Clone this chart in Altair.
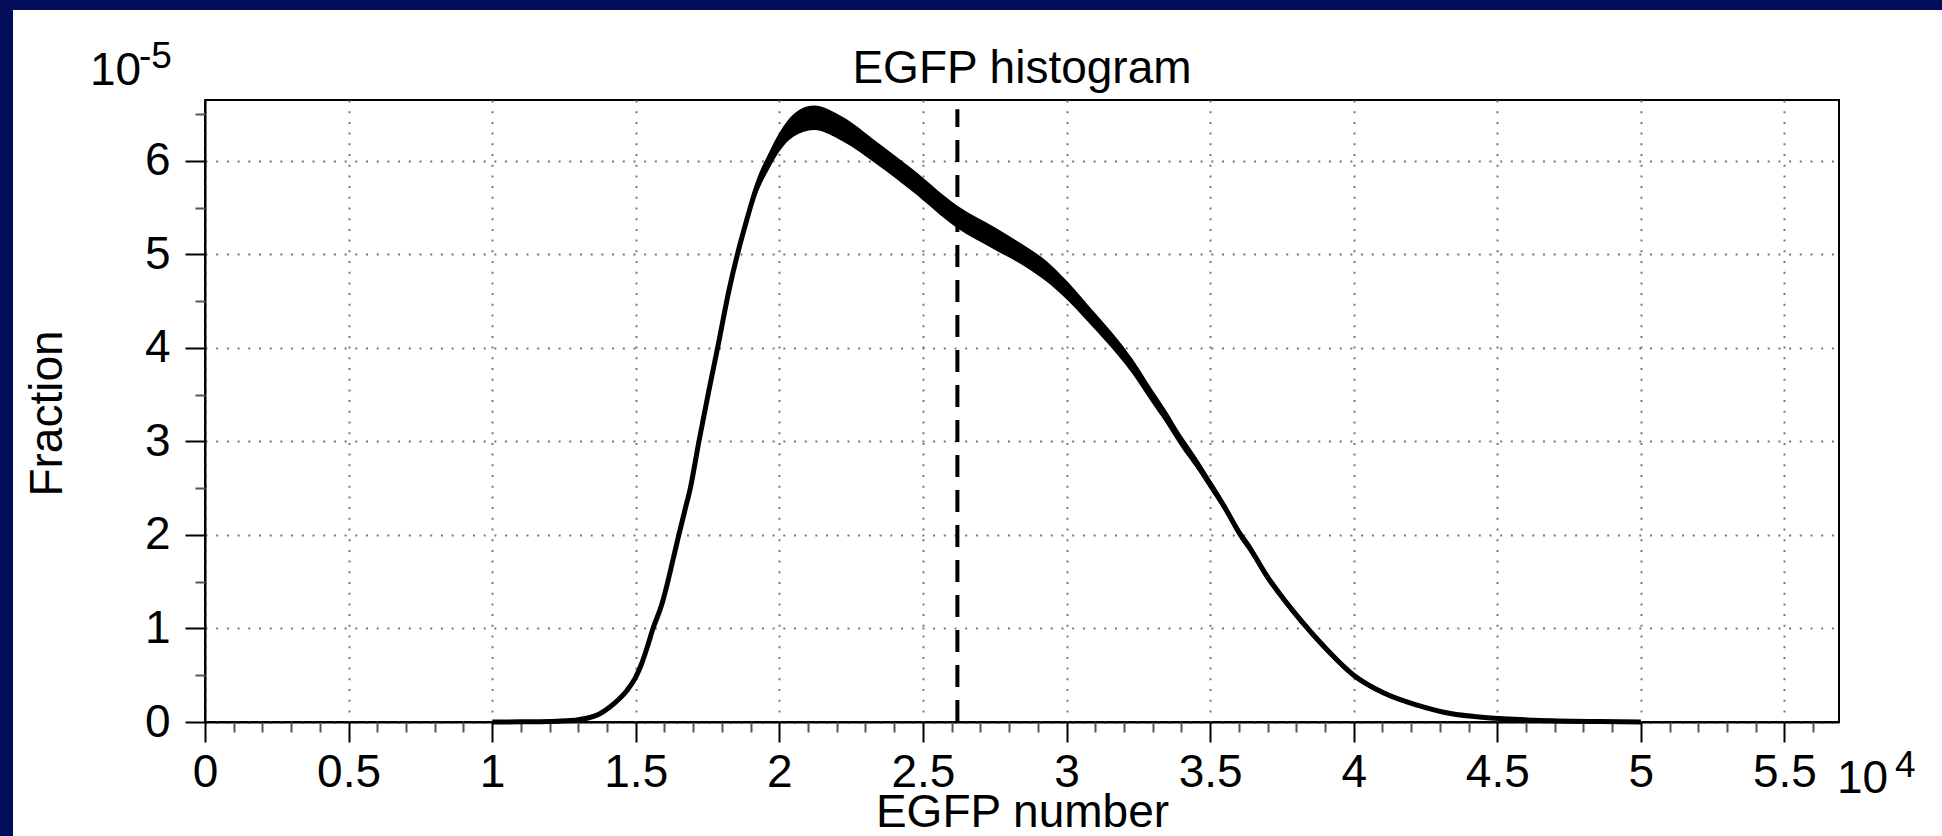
import altair as alt
import pandas as pd

# ---- data (x in units of 10^4, y in units of 10^-5) ----
egfp_1e4 = [1.00, 1.10, 1.20, 1.24, 1.30, 1.33, 1.37, 1.41, 1.44, 1.47,
            1.50, 1.52, 1.54, 1.56, 1.59, 1.61, 1.63, 1.65, 1.67, 1.69,
            1.72, 1.755, 1.785, 1.825, 1.854, 1.883, 1.918, 1.964, 2.00, 2.05,
            2.12, 2.22, 2.34, 2.46, 2.62, 2.75, 2.86, 2.93, 3.00, 3.08,
            3.18, 3.23, 3.29, 3.345, 3.40, 3.45, 3.49, 3.55, 3.606, 3.635,
            3.70, 3.76, 3.815, 3.908, 4.00, 4.105, 4.221, 4.337, 4.465, 4.63,
            4.86, 5.00]
fraction_1e5 = [0.0, 0.002, 0.006, 0.01, 0.025, 0.04, 0.08, 0.16, 0.24, 0.34,
                0.48, 0.62, 0.80, 1.00, 1.25, 1.48, 1.74, 2.00, 2.25, 2.50,
                3.00, 3.55, 4.00, 4.62, 5.00, 5.33, 5.69, 6.00, 6.20, 6.38,
                6.46, 6.34, 6.08, 5.80, 5.40, 5.17, 4.97, 4.82, 4.62, 4.35,
                4.00, 3.80, 3.52, 3.27, 3.00, 2.78, 2.59, 2.30, 2.00, 1.875,
                1.55, 1.30, 1.09, 0.77, 0.50, 0.31, 0.18, 0.09, 0.046, 0.02,
                0.005, 0.0]
noise_half = [0, 0, 0, 0, 0, 0, 0, 0, 0, 0,
              0.01, 0.01, 0.01, 0.015, 0.015, 0.02, 0.02, 0.02, 0.025, 0.025,
              0.03, 0.035, 0.04, 0.05, 0.06, 0.07, 0.08, 0.09, 0.10, 0.12,
              0.13, 0.13, 0.12, 0.12, 0.12, 0.12, 0.11, 0.11, 0.10, 0.09,
              0.085, 0.08, 0.075, 0.07, 0.065, 0.06, 0.055, 0.05, 0.05, 0.05,
              0.045, 0.04, 0.04, 0.035, 0.03, 0.025, 0.02, 0.015, 0.01, 0.005,
              0, 0]
threshold_1e4 = [2.62]
threshold_top_1e5 = [6.55]

x_major = [0, 0.5, 1, 1.5, 2, 2.5, 3, 3.5, 4, 4.5, 5, 5.5]
x_minor = [0.1, 0.2, 0.3, 0.4, 0.6, 0.7, 0.8, 0.9, 1.1, 1.2, 1.3, 1.4,
           1.6, 1.7, 1.8, 1.9, 2.1, 2.2, 2.3, 2.4, 2.6, 2.7, 2.8, 2.9,
           3.1, 3.2, 3.3, 3.4, 3.6, 3.7, 3.8, 3.9, 4.1, 4.2, 4.3, 4.4,
           4.6, 4.7, 4.8, 4.9, 5.1, 5.2, 5.3, 5.4, 5.6]
y_major = [0, 1, 2, 3, 4, 5, 6]
y_minor = [0.5, 1.5, 2.5, 3.5, 4.5, 5.5, 6.5]

FONT = "Liberation Sans"
NAVY = "#030B5B"
W, H = 1634, 622
PAD = {"left": 205, "top": 100, "right": 103, "bottom": 114}

df = pd.DataFrame({
    "x": egfp_1e4,
    "f": fraction_1e5,
    "lo": [f - h for f, h in zip(fraction_1e5, noise_half)],
    "hi": [f + h for f, h in zip(fraction_1e5, noise_half)],
})
thr = pd.DataFrame({"t": threshold_1e4, "y0": [0.0], "y1": threshold_top_1e5})
dummy = pd.DataFrame({"a": [0]})

xscale = alt.Scale(domain=[0, 5.69], nice=False, zero=False)
yscale = alt.Scale(domain=[0, 6.65], nice=False, zero=False)

common = dict(labelFont=FONT, labelFontSize=46, labelColor="black",
              titleFont=FONT, titleFontSize=46, titleFontWeight="normal",
              titleColor="black", labelFlush=False, labelOverlap=False,
              labelBound=False)

x_axis_major = alt.Axis(orient="bottom", values=x_major, format="~g",
                        tickSize=20, tickWidth=2, tickColor="black",
                        domain=True, domainColor="black", domainWidth=2,
                        grid=True, gridDash=[2, 8.7], gridColor="#777777", gridWidth=2,
                        labelPadding=8, title="EGFP number",
                        titleX=817, titleY=104, titleBaseline="alphabetic",
                        titleAlign="center", **common)
y_axis_major = alt.Axis(orient="left", values=y_major, format="~g",
                        tickSize=20, tickWidth=2, tickColor="black",
                        domain=True, domainColor="black", domainWidth=2,
                        grid=True, gridDash=[2, 8.7], gridColor="#777777", gridWidth=2,
                        labelPadding=15, title="Fraction", titleAngle=270,
                        titleX=-144, titleY=313, titleBaseline="alphabetic",
                        titleAlign="center", **common)
x_axis_minor = alt.Axis(orient="bottom", values=x_minor, labels=False,
                        tickSize=10, tickWidth=2, tickColor="#555555",
                        domain=False, grid=False, title=None)
y_axis_minor = alt.Axis(orient="left", values=y_minor, labels=False,
                        tickSize=10, tickWidth=2, tickColor="#555555",
                        domain=False, grid=False, title=None)

band = alt.Chart(df).mark_area(color="black", interpolate="monotone").encode(
    x=alt.X("x:Q", scale=xscale, axis=x_axis_major),
    y=alt.Y("lo:Q", scale=yscale, axis=y_axis_major),
    y2="hi:Q",
)
line = alt.Chart(df).mark_line(color="black", strokeWidth=5, strokeJoin="round",
                               interpolate="monotone").encode(
    x=alt.X("x:Q", scale=xscale, axis=None),
    y=alt.Y("f:Q", scale=yscale, axis=None),
)
rule = alt.Chart(thr).mark_rule(color="black", strokeWidth=4, strokeDash=[22, 13]).encode(
    x=alt.X("t:Q", scale=xscale, axis=x_axis_minor),
    y=alt.Y("y0:Q", scale=yscale, axis=y_axis_minor),
    y2="y1:Q",
)

navy_left = alt.Chart(dummy).mark_rect(color=NAVY).encode(
    x=alt.value(-206), x2=alt.value(-192), y=alt.value(-101), y2=alt.value(737))
navy_top = alt.Chart(dummy).mark_rect(color=NAVY).encode(
    x=alt.value(-206), x2=alt.value(1738), y=alt.value(-101), y2=alt.value(-90))


def txt(s, x, y, size, align="left"):
    return alt.Chart(dummy).mark_text(font=FONT, fontSize=size, color="black",
                                      align=align, baseline="alphabetic").encode(
        x=alt.value(x), y=alt.value(y), text=alt.value(s))


title = txt("EGFP histogram", 817, -17, 46, align="center")
exp_y_base = txt("10", -115, -15, 46)
exp_y_sup = txt("-5", -66, -32, 37)
exp_x_base = txt("10", 1632, 693, 46)
exp_x_sup = txt("4", 1690, 677, 37)

chart = alt.layer(
    navy_left, navy_top, band, line, rule,
    title, exp_y_base, exp_y_sup, exp_x_base, exp_x_sup,
).resolve_axis(x="independent", y="independent").properties(
    width=W, height=H, padding=PAD,
    autosize=alt.AutoSizeParams(type="none"),
    background="white",
).configure_view(stroke="black", strokeWidth=2)

chart.save("out.html", embed_options={"renderer": "svg", "actions": False})
